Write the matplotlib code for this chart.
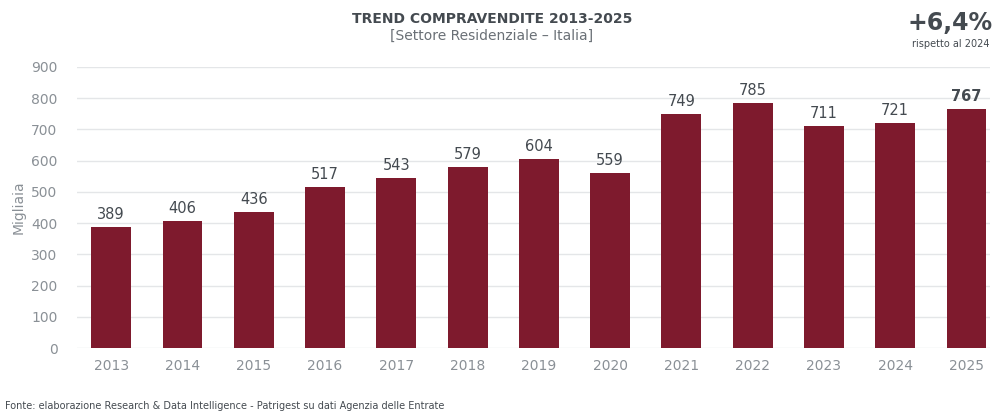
import matplotlib.pyplot as plt

years = ["2013", "2014", "2015", "2016", "2017", "2018", "2019",
         "2020", "2021", "2022", "2023", "2024", "2025"]
sales = [389, 406, 436, 517, 543, 579, 604, 559, 749, 785, 711, 721, 767]
yticks = [0, 100, 200, 300, 400, 500, 600, 700, 800, 900]

bar_color = "#7E1A2D"
text_dark = "#444A50"
text_grey = "#8A9096"

fig = plt.figure(figsize=(9.94, 4.12), dpi=100)
ax = fig.add_axes([0.0775, 0.1553, 0.9185, 0.6821])

x = range(len(years))
bars = ax.bar(x, sales, width=0.56, color=bar_color, zorder=3)

# value labels above bars, last one bold
for i, v in enumerate(sales):
    ax.text(i, v + 16, str(v), ha="center", va="bottom", fontsize=10.5,
            color=text_dark, fontweight="bold" if i == len(sales) - 1 else "normal")

ax.set_ylim(0, 900)
ax.set_xlim(-0.48, 12.33)
ax.set_yticks(yticks)
ax.set_xticks(list(x))
ax.set_xticklabels(years)
ax.tick_params(axis="both", length=0, labelsize=10, labelcolor=text_grey)
ax.tick_params(axis="y", pad=14)
ax.tick_params(axis="x", pad=8)
ax.yaxis.grid(True, color="#E4E6E8", linewidth=1, zorder=0)
for s in ax.spines.values():
    s.set_visible(False)

ax.set_ylabel("Migliaia", fontsize=10, color=text_grey, labelpad=4)

fig.text(0.495, 0.955, "TREND COMPRAVENDITE 2013-2025", ha="center", va="center",
         fontsize=10, fontweight="bold", color=text_dark)
fig.text(0.495, 0.912, "[Settore Residenziale \u2013 Italia]", ha="center", va="center",
         fontsize=10, color="#6A7076")
fig.text(0.999, 0.945, "+6,4%", ha="right", va="center", fontsize=17,
         fontweight="bold", color=text_dark)
fig.text(0.995, 0.892, "rispetto al 2024", ha="right", va="center", fontsize=7,
         color=text_dark)
fig.text(0.005, 0.002, "Fonte: elaborazione Research & Data Intelligence - Patrigest su dati Agenzia delle Entrate",
         ha="left", va="bottom", fontsize=7, color=text_dark)

fig.savefig("out.png", dpi=100)
